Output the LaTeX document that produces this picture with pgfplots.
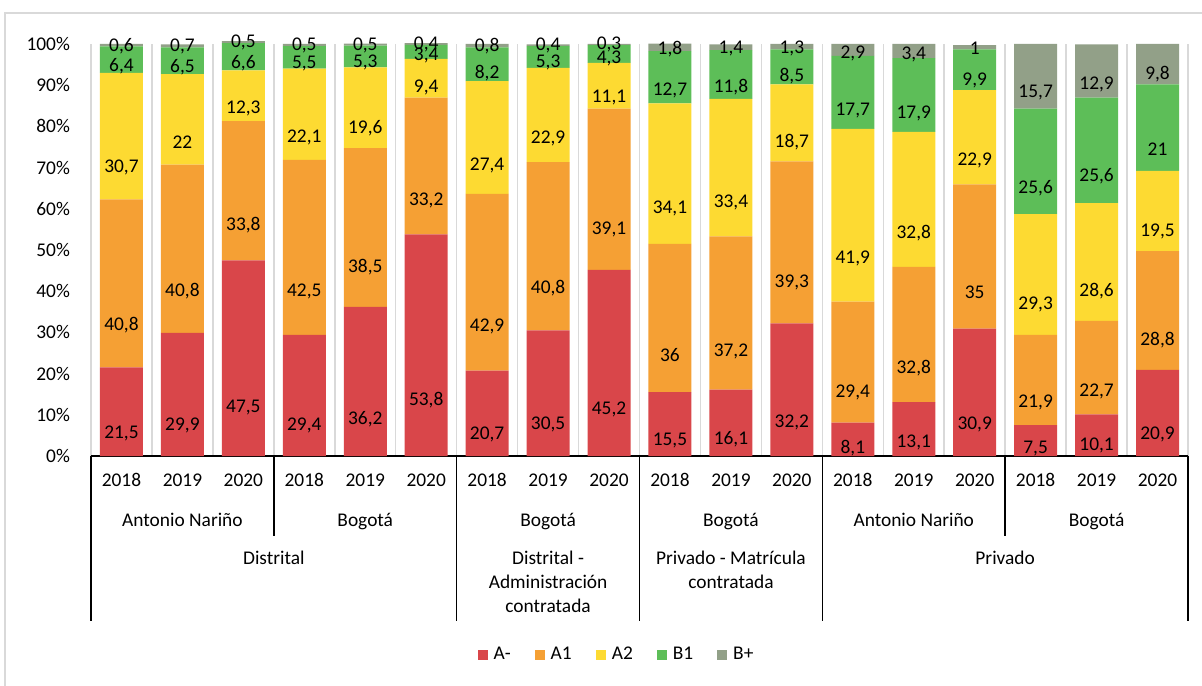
\documentclass[border=0pt]{standalone}
\usepackage{pgfplots}
\pgfplotsset{compat=1.18}
\usepackage{pgfplotstable}
\usepackage{fontspec}
\setmainfont{Carlito}
\definecolor{cAm}{RGB}{217,70,74}
\definecolor{cA1}{RGB}{245,160,52}
\definecolor{cA2}{RGB}{253,218,50}
\definecolor{cB1}{RGB}{93,190,88}
\definecolor{cBp}{RGB}{146,160,136}
\definecolor{gridc}{RGB}{217,217,217}
\pgfplotstableread{
x Am A1 A2 B1 Bp
0 21.5 40.8 30.7 6.4 0.6
1 29.9 40.8 22 6.5 0.7
2 47.5 33.8 12.3 6.6 0.5
3 29.4 42.5 22.1 5.5 0.5
4 36.2 38.5 19.6 5.3 0.5
5 53.8 33.2 9.4 3.4 0.4
6 20.7 42.9 27.4 8.2 0.8
7 30.5 40.8 22.9 5.3 0.4
8 45.2 39.1 11.1 4.3 0.3
9 15.5 36 34.1 12.7 1.8
10 16.1 37.2 33.4 11.8 1.4
11 32.2 39.3 18.7 8.5 1.3
12 8.1 29.4 41.9 17.7 2.9
13 13.1 32.8 32.8 17.9 3.4
14 30.9 35 22.9 9.9 1
15 7.5 21.9 29.3 25.6 15.7
16 10.1 22.7 28.6 25.6 12.9
17 20.9 28.8 19.5 21 9.8
}\datatable
\begin{document}
\begin{tikzpicture}
\draw[gridc, line width=0.75pt] (-43pt,-130pt) -- (-43pt,221.5pt) -- (570pt,221.5pt);
\begin{axis}[
  at={(0,0)}, anchor=south west,
  scale only axis, width=548.5pt, height=206pt,
  ybar stacked, bar width=21.5pt,
  xmin=-0.5, xmax=17.5, ymin=0, ymax=100,
  enlargelimits=false, clip=false,
  xtick={-0.5,0.5,...,17.5}, xticklabels={},
  xmajorgrids, major grid style={gridc, line width=0.75pt},
  ytick={0,10,...,100},
  yticklabel={\pgfmathprintnumber{\tick}\%},
  yticklabel style={xshift=-7pt},
  axis line style={draw=none},
  tick style={draw=none},
  font=\fontsize{9.7}{11}\selectfont,
  ticklabel style={font=\fontsize{9.7}{11}\selectfont},
  /pgf/number format/use comma,
  /pgf/number format/assume math mode=true,
  nodes near coords={\pgfmathprintnumber{\pgfplotspointmeta}},
  every node near coord/.append style={
    font=\fontsize{9.7}{11}\selectfont, text=black,
    /pgfplots/halfh/.code={\pgfkeys{/pgf/fpu=true,/pgf/fpu/output format=fixed}\pgfmathparse{\pgfplotspointmeta*0.515}\global\let\myhalf\pgfmathresult\pgfkeys{/pgf/fpu=false}},
    /pgfplots/halfh,
    anchor=center, inner sep=0pt, yshift=-\myhalf pt},
  legend style={at={(rel axis cs:0.48,-0.483)}, anchor=center, draw=none,
    font=\fontsize{9.7}{11}\selectfont,
    /tikz/every even column/.append style={column sep=10pt},
    /tikz/every odd column/.append style={column sep=1pt}},
  legend columns=-1,
  legend image code/.code={\fill[#1,draw=none] (0pt,-2.5pt) rectangle (5pt,2.5pt);},
]
\addplot[fill=cAm, draw=none] table[x=x, y=Am] {\datatable};
\addplot[fill=cA1, draw=none] table[x=x, y=A1] {\datatable};
\addplot[fill=cA2, draw=none] table[x=x, y=A2] {\datatable};
\addplot[fill=cB1, draw=none] table[x=x, y=B1] {\datatable};
\addplot[fill=cBp, draw=none] table[x=x, y=Bp] {\datatable};
\legend{A-,A1,A2,B1,B+}
\draw[black, line width=0.8pt] (axis cs:-0.5,0) -- (axis cs:17.5,0);
\pgfplotsinvokeforeach{-0.5,5.5,8.5,11.5,17.5}{
  \draw[black, line width=0.8pt] (axis cs:#1,0) -- ([yshift=-82.5pt]axis cs:#1,0);
}
\pgfplotsinvokeforeach{2.5,14.5}{
  \draw[black, line width=0.8pt] (axis cs:#1,0) -- ([yshift=-40pt]axis cs:#1,0);
}
\pgfplotsinvokeforeach{0,3,6,9,12,15}{
  \node[anchor=base, yshift=-15pt] at (axis cs:#1,0) {2018};
}
\pgfplotsinvokeforeach{1,4,7,10,13,16}{
  \node[anchor=base, yshift=-15pt] at (axis cs:#1,0) {2019};
}
\pgfplotsinvokeforeach{2,5,8,11,14,17}{
  \node[anchor=base, yshift=-15pt] at (axis cs:#1,0) {2020};
}
\node[anchor=base, yshift=-35pt] at (axis cs:1,0) {Antonio Nariño};
\node[anchor=base, yshift=-35pt] at (axis cs:4,0) {Bogotá};
\node[anchor=base, yshift=-35pt] at (axis cs:7,0) {Bogotá};
\node[anchor=base, yshift=-35pt] at (axis cs:10,0) {Bogotá};
\node[anchor=base, yshift=-35pt] at (axis cs:13,0) {Antonio Nariño};
\node[anchor=base, yshift=-35pt] at (axis cs:16,0) {Bogotá};
\node[anchor=base, yshift=-54pt] at (axis cs:2.5,0) {Distrital};
\node[anchor=base, yshift=-54pt] at (axis cs:7,0) {Distrital -};
\node[anchor=base, yshift=-66pt] at (axis cs:7,0) {Administración};
\node[anchor=base, yshift=-78pt] at (axis cs:7,0) {contratada};
\node[anchor=base, yshift=-54pt] at (axis cs:10,0) {Privado - Matrícula};
\node[anchor=base, yshift=-66pt] at (axis cs:10,0) {contratada};
\node[anchor=base, yshift=-54pt] at (axis cs:14.5,0) {Privado};
\end{axis}
\pgfresetboundingbox
\useasboundingbox (-45.5pt,-114.5pt) rectangle (555.5pt,228pt);
\end{tikzpicture}
\end{document}
